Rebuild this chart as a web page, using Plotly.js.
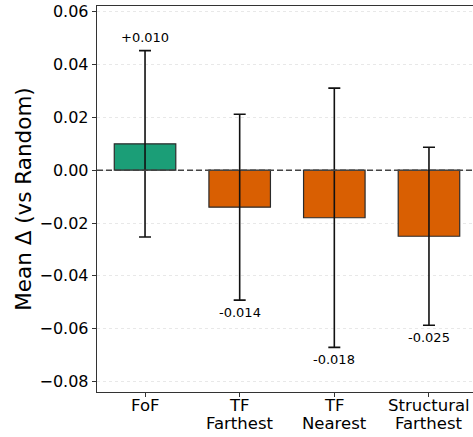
<!DOCTYPE html>
<html>
<head>
<meta charset="utf-8">
<script src="https://cdn.plot.ly/plotly-3.0.1.min.js"></script>
<style>
html,body{margin:0;padding:0;overflow:hidden;background:#fff;}
#chart{width:477px;height:437px;}
</style>
</head>
<body>
<div id="chart"></div>
<script>
const categories = [["FoF"], ["TF", "Farthest"], ["TF", "Nearest"], ["Structural", "Farthest"]];
const meanDelta = [0.010, -0.014, -0.018, -0.025];
const errors = [0.0353, 0.0352, 0.0491, 0.0337];
const valueLabels = ["+0.010", "-0.014", "-0.018", "-0.025"];
const barColors = ["#1b9e77", "#d95f02", "#d95f02", "#d95f02"];
const yTicks = [-0.08, -0.06, -0.04, -0.02, 0.00, 0.02, 0.04, 0.06];

const xIdx = categories.map((c, i) => i);

const trace = {
  type: "bar",
  x: xIdx,
  y: meanDelta,
  width: 0.65,
  marker: {color: barColors, line: {color: "#2b2b2b", width: 1.2}},
  error_y: {type: "data", array: errors, visible: true, color: "#111", thickness: 1.6, width: 6},
  hoverinfo: "none"
};

const annotations = meanDelta.map((v, i) => {
  const pos = v >= 0;
  return {
    x: i, y: pos ? v + errors[i] : v - errors[i],
    xref: "x", yref: "y",
    text: valueLabels[i],
    showarrow: false,
    yanchor: pos ? "bottom" : "top",
    yshift: pos ? 4 : -3,
    font: {family: "DejaVu Sans", size: 13, color: "#000"}
  };
});

// category tick labels, one annotation per line for tight line spacing
categories.forEach((lines, i) => {
  lines.forEach((t, j) => {
    annotations.push({
      x: i, y: 0, xref: "x", yref: "paper",
      text: t, showarrow: false,
      yanchor: "middle", yshift: -13 - 18 * j,
      font: {family: "DejaVu Sans", size: 16.5, color: "#000"}
    });
  });
});

const layout = {
  width: 477, height: 437,
  margin: {l: 97, r: 0, t: 6, b: 45},
  paper_bgcolor: "#fff", plot_bgcolor: "#fff",
  showlegend: false,
  font: {family: "DejaVu Sans", color: "#000"},
  xaxis: {
    range: [-0.5075, 3.5075],
    tickmode: "array", tickvals: xIdx, showticklabels: false,
    ticks: "outside", ticklen: 4, tickcolor: "#333",
    showline: true, linecolor: "#333", linewidth: 1.3, mirror: true,
    showgrid: false, zeroline: false
  },
  yaxis: {
    range: [-0.084, 0.0622],
    tickmode: "array", tickvals: yTicks,
    tickformat: ".2f",
    ticks: "outside", ticklen: 4, tickcolor: "#333",
    showline: true, linecolor: "#333", linewidth: 1.3, mirror: true,
    showgrid: true, gridcolor: "#e2e2e2", gridwidth: 0.8, griddash: "dot",
    zeroline: false,
    tickfont: {size: 16, family: "DejaVu Sans"},
    title: {text: "Mean Δ (vs Random)", font: {size: 21.5, family: "DejaVu Sans"}, standoff: 2}
  },
  shapes: [{
    type: "line", xref: "paper", yref: "y", x0: 0, x1: 1, y0: 0, y1: 0,
    line: {color: "#444", width: 1.6, dash: "6px,3px"}, layer: "above"
  }],
  annotations: annotations
};

Plotly.newPlot("chart", [trace], layout, {displayModeBar: false, staticPlot: true});
</script>
</body>
</html>
